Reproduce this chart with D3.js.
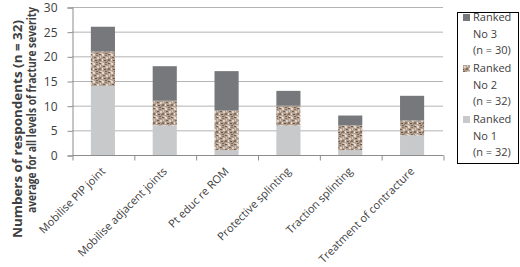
<!DOCTYPE html>
<html>
<head>
<meta charset="utf-8">
<script src="https://cdn.jsdelivr.net/npm/d3@7"></script>
<style>
  body { margin: 0; background: #fff; }
  svg text { font-family: "Open Sans", "Liberation Sans", sans-serif; fill: #404040; }
  .grid-lines line { stroke: #b4b4b4; stroke-width: 1; }
  .axis path, .axis line { stroke: #8c8c8c; }
</style>
</head>
<body>
<div class="mainview"></div>
<script>

const categories = [
    "Mobilise PIP joint",
    "Mobilise adjacent joints",
    "Pt educ re ROM",
    "Protective splinting",
    "Traction splinting",
    "Treatment of contracture"
];
const rankedNo1 = [14, 6, 1, 6, 1, 4];
const rankedNo2 = [7, 5, 8, 4, 5, 3];
const rankedNo3 = [5, 7, 8, 3, 2, 5];
const legendLabels = [
    ["Ranked", "No 3", "(n = 30)"],
    ["Ranked", "No 2", "(n = 32)"],
    ["Ranked", "No 1", "(n = 32)"]
];
const yTicks = [0, 5, 10, 15, 20, 25, 30];
const yTitleLines = ["Numbers of respondents (n = 32)", "average for all levels of fracture severity"];

const dim = { width: 520, height: 267 };
const margin = { top: 7, right: 77, bottom: 112, left: 72 };

const svg = d3.select(".mainview").append("svg")
    .attr("width", dim.width)
    .attr("height", dim.height);

// mottled texture for "No 2" //////////////////////

const defs = svg.append("defs");
const pat = defs.append("pattern")
    .attr("id", "speckle")
    .attr("patternUnits", "userSpaceOnUse")
    .attr("width", 9).attr("height", 9);
pat.append("rect").attr("width", 9).attr("height", 9).attr("fill", "#b3a090");
const specks = [
    [0, 0, 2, 1, "#6e5c4e"], [3, 0, 2, 2, "#e4dad0"], [6, 1, 2, 1, "#8a7564"],
    [1, 2, 1, 2, "#d6c9bc"], [4, 3, 2, 1, "#735f50"], [7, 3, 2, 2, "#ded3c8"],
    [0, 5, 2, 2, "#857060"], [3, 5, 1, 2, "#eae2da"], [5, 6, 2, 1, "#675547"],
    [8, 6, 1, 2, "#9c8777"], [1, 8, 3, 1, "#d9cdc1"], [6, 8, 2, 1, "#7a6656"]
];
pat.selectAll("rect.s")
    .data(specks)
    .join("rect")
    .attr("class", "s")
    .attr("x", d => d[0]).attr("y", d => d[1])
    .attr("width", d => d[2]).attr("height", d => d[3])
    .attr("fill", d => d[4]);

const fills = ["#c8c9cb", "url(#speckle)", "#77787b"];

// scales ////////////////////////////////////////

const x = d3.scaleBand()
    .domain(categories)
    .range([margin.left, dim.width - margin.right])
    .paddingInner(0.61)
    .paddingOuter(0.305);

const xTickScale = d3.scaleLinear()
    .domain([0, categories.length])
    .range([margin.left, dim.width - margin.right]);

const y = d3.scaleLinear()
    .domain([0, 30])
    .range([dim.height - margin.bottom, margin.top]);

// grid
svg.append("g")
    .attr("class", "grid-lines")
    .selectAll("line")
    .data(yTicks.filter(d => d !== 0))
    .join("line")
    .attr("x1", margin.left)
    .attr("x2", dim.width - margin.right)
    .attr("y1", d => y(d) + 0.5)
    .attr("y2", d => y(d) + 0.5);

// bars
const table = categories.map((c, i) => ({
    cat: c, n1: rankedNo1[i], n2: rankedNo2[i], n3: rankedNo3[i]
}));
const stacked = d3.stack().keys(["n1", "n2", "n3"])(table);

svg.append("g")
    .selectAll("g")
    .data(stacked)
    .join("g")
    .attr("fill", (d, i) => fills[i])
    .selectAll("rect")
    .data(d => d)
    .join("rect")
    .attr("x", d => x(d.data.cat))
    .attr("y", d => y(d[1]))
    .attr("width", x.bandwidth())
    .attr("height", d => y(d[0]) - y(d[1]));

// axes //////////////////////////////////////////

const yAxis = d3.axisLeft(y)
    .tickValues(yTicks)
    .tickSize(5)
    .tickPadding(10);
svg.append("g")
    .attr("class", "axis y")
    .attr("transform", `translate(${ margin.left + 0.5 }, 0.5)`)
    .call(yAxis)
    .call(g => g.selectAll("text").style("font-size", "12px").attr("fill", "#404040"));

const xAxis = d3.axisBottom(xTickScale)
    .tickValues(d3.range(categories.length + 1))
    .tickSize(5)
    .tickFormat("");
svg.append("g")
    .attr("class", "axis x")
    .attr("transform", `translate(0.5, ${ dim.height - margin.bottom + 0.5 })`)
    .call(xAxis)
    .call(g => g.select(".domain").attr("d", `M${ margin.left },0H${ dim.width - margin.right }`));

svg.append("g")
    .selectAll("text")
    .data(categories)
    .join("text")
    .attr("text-anchor", "end")
    .attr("transform", d => `translate(${ x(d) + x.bandwidth() / 2 + 3 }, ${ dim.height - margin.bottom + 17 }) rotate(-45)`)
    .style("font-size", "11px")
    .text(d => d);

// y title
const yTitle = svg.append("g");
yTitle.selectAll("text")
    .data(yTitleLines)
    .join("text")
    .attr("transform", (d, i) => i === 0 ? "translate(22, 238) rotate(-90)" : "translate(36, 213) rotate(-90)")
    .attr("textLength", (d, i) => i === 0 ? 218 : 206)
    .attr("lengthAdjust", "spacingAndGlyphs")
    .style("font-size", "12.5px")
    .style("font-weight", "bold")
    .attr("fill", "#000")
    .text(d => d);

// legend ////////////////////////////////////////

const legend = svg.append("g").attr("transform", "translate(457, 12)");
legend.append("rect")
    .attr("x", 0.5).attr("y", 0.5)
    .attr("width", 61).attr("height", 151)
    .attr("fill", "#fff")
    .attr("stroke", "#000");

const legendFills = [fills[2], fills[1], fills[0]];
const item = legend.selectAll("g.item")
    .data(legendLabels)
    .join("g")
    .attr("class", "item")
    .attr("transform", (d, i) => `translate(0, ${ 9 + i * 51 })`);
item.append("rect")
    .attr("x", 6).attr("y", -7)
    .attr("width", 7).attr("height", 7)
    .attr("fill", (d, i) => legendFills[i]);
item.selectAll("text")
    .data(d => d)
    .join("text")
    .attr("x", 16)
    .attr("y", (d, i) => i * 16.5)
    .style("font-size", "11px")
    .attr("fill", "#262626")
    .text(d => d);
</script>
</body>
</html>
